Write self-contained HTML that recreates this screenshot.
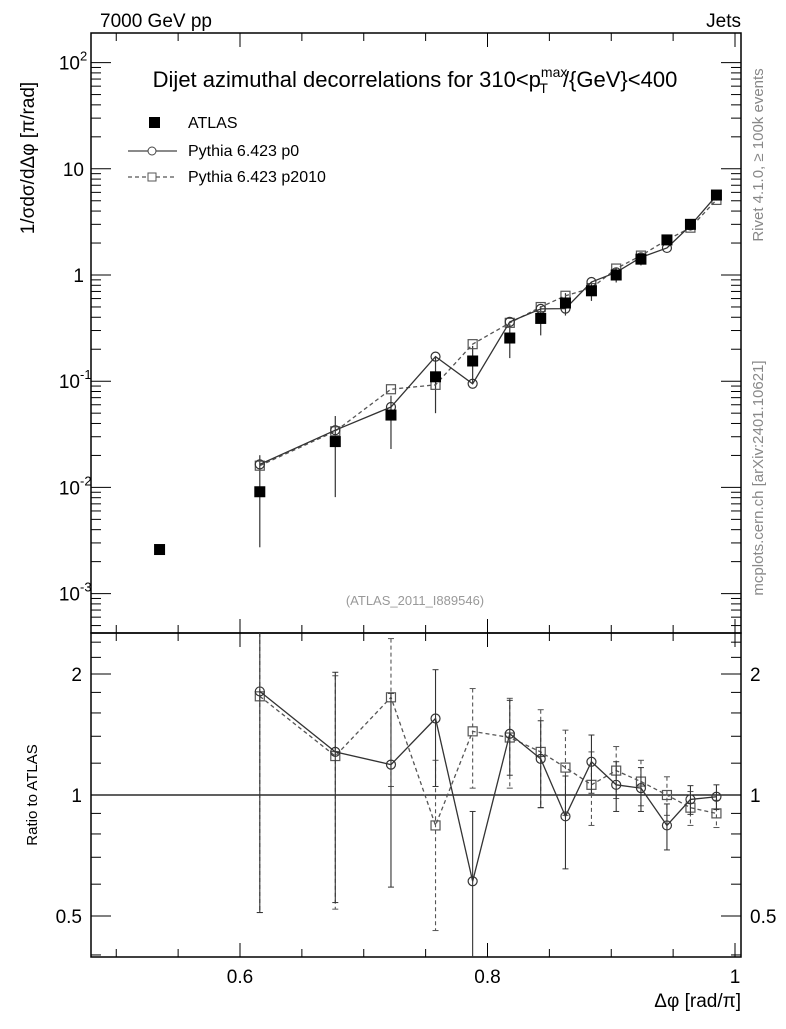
<!DOCTYPE html>
<html><head><meta charset="utf-8"><style>
body{margin:0;background:#fff}
svg text{font-family:"Liberation Sans",sans-serif}
</style></head><body>
<svg id="c" width="786" height="1024" xmlns="http://www.w3.org/2000/svg">
<text x="100" y="27" font-size="19">7000 GeV pp</text>
<text x="741" y="27" font-size="19" text-anchor="end">Jets</text>
<text x="415" y="87" font-size="22" text-anchor="middle">Dijet azimuthal decorrelations for 310&lt;p<tspan font-size="14" dy="-10">max</tspan><tspan font-size="14" dx="-28" dy="16">T</tspan><tspan dy="-6" dx="15">/{GeV}&lt;400</tspan></text>
<text transform="translate(34,158) rotate(-90)" font-size="19" text-anchor="middle">1/σdσ/dΔφ [π/rad]</text>
<text transform="translate(37,795) rotate(-90)" font-size="15" text-anchor="middle">Ratio to ATLAS</text>
<text x="741" y="1007" font-size="19" text-anchor="end">Δφ [rad/π]</text>
<text transform="translate(763,155) rotate(-90)" font-size="15" fill="#888" text-anchor="middle">Rivet 4.1.0, ≥ 100k events</text>
<text transform="translate(763,478) rotate(-90)" font-size="15" fill="#888" text-anchor="middle">mcplots.cern.ch [arXiv:2401.10621]</text>
<text x="415" y="605" font-size="13" fill="#999" text-anchor="middle">(ATLAS_2011_I889546)</text>
<g>
<rect x="149" y="117" width="11" height="11" fill="#000"/>
<text x="188" y="128" font-size="16">ATLAS</text>
<line x1="128" y1="151" x2="177" y2="151" stroke="#444" stroke-width="1.3"/>
<circle cx="152" cy="151" r="4" fill="#fff" stroke="#444"/>
<text x="188" y="156" font-size="16">Pythia 6.423 p0</text>
<line x1="128" y1="177" x2="177" y2="177" stroke="#555" stroke-width="1.2" stroke-dasharray="4,3"/>
<rect x="148" y="173" width="8" height="8" fill="#fff" stroke="#555"/>
<text x="188" y="182" font-size="16">Pythia 6.423 p2010</text>
</g>
<g id="g"></g>
</svg>
<script>
const xs=[0.535,0.616,0.677,0.722,0.758,0.788,0.818,0.843,0.863,0.884,0.904,0.924,0.945,0.964,0.985];
const atlas=[0.0026,0.0091,0.027,0.048,0.11,0.155,0.255,0.39,0.545,0.71,1.0,1.41,2.14,3.0,5.66];
const atlasErr=[0.0002,0.011,0.02,0.025,0.06,0.06,0.09,0.12,0.13,0.14,0.15,0.18,0.23,0.24,0.4];
const rP0=[null,1.81,1.28,1.19,1.55,0.61,1.42,1.23,0.885,1.21,1.06,1.04,0.84,0.975,0.99];
const eP0=[0,1.3,0.74,0.6,0.5,0.3,0.3,0.3,0.23,0.2,0.15,0.13,0.11,0.08,0.07];
const rP2=[null,1.76,1.25,1.75,0.84,1.44,1.39,1.28,1.17,1.06,1.15,1.08,1.0,0.93,0.90];
const eP2=[0,1.25,0.73,0.7,0.38,0.4,0.35,0.35,0.28,0.22,0.17,0.14,0.11,0.09,0.07];
const xTicks=[0.6,0.8,1];
const xTickLabels=["0.6","0.8","1"];
const rTicks=[0.5,1,2];
const rTickLabels=["0.5","1","2"];
const NS="http://www.w3.org/2000/svg",g=document.getElementById('g');
const L=91,R=741,T=33,M=633,B=957;
const X=v=>240+(v-0.6)*1237.5;
const Y=v=>275-Math.log10(v)*106.2;
const RY=v=>795-Math.log2(v)*121;
function el(t,a,n){const e=document.createElementNS(NS,t);for(const k in a)e.setAttribute(k,a[k]);g.appendChild(e);return e;}
let f=el('rect',{x:L,y:T,width:R-L,height:M-T,fill:'none',stroke:'#000','stroke-width':1.5});


f=el('rect',{x:L,y:M,width:R-L,height:B-M,fill:'none',stroke:'#000','stroke-width':1.5});


for(let v=0.5;v<=1.0001;v+=0.05){const x=X(v);const maj=xTicks.some(t=>Math.abs(t-v)<1e-6);const len=maj?14:8;
 for(const [y0,d] of [[T,1],[M,-1],[M,1],[B,-1]]){const t=el('line',{x1:x,x2:x,y1:y0,y2:y0+d*len,stroke:'#000','stroke-width':1});
 
 }}
xTicks.forEach((v,i)=>{const t=el('text',{x:X(v),y:983,'font-size':19,'text-anchor':'middle'});t.textContent=xTickLabels[i];

});
for(let e=-4;e<=2;e++){for(let m=1;m<10;m++){const v=m*Math.pow(10,e);const y=Y(v);if(y<T||y>M)continue;const len=m==1?20:10;
 for(const [x0,d] of [[L,1],[R,-1]]){const t=el('line',{x1:x0,x2:x0+d*len,y1:y,y2:y,stroke:'#000','stroke-width':1});
 
 }}}
[[-3,'10','-3'],[-2,'10','-2'],[-1,'10','-1'],[0,'1',''],[1,'10',''],[2,'10','2']].forEach(([e,b,s])=>{const y=Y(Math.pow(10,e))+7;
 const t=el('text',{x:s?80:84,y:y,'font-size':19,'text-anchor':'end'});t.textContent=b;
 
 
 if(s){const u=el('text',{x:80,y:y-9,'font-size':13});u.textContent=s;
 
 }});
[0.4,0.5,0.6,0.7,0.8,0.9,1,1.2,1.4,1.6,1.8,2,2.2,2.4].forEach(v=>{const y=RY(v);if(y<M||y>B)return;const maj=rTicks.includes(v);const len=maj?20:10;
 for(const [x0,d] of [[L,1],[R,-1]]){const t=el('line',{x1:x0,x2:x0+d*len,y1:y,y2:y,stroke:'#000','stroke-width':1});
 
 }});
rTicks.forEach((v,i)=>{for(const [x,a] of [[82,'end'],[750,'start']]){const t=el('text',{x:x,y:RY(v)+7,'font-size':19,'text-anchor':a});t.textContent=rTickLabels[i];
 
 }});
let ref=el('line',{x1:L,x2:R,y1:RY(1),y2:RY(1),stroke:'#000','stroke-width':1.3});


const cy=(y,a,b)=>Math.max(a,Math.min(b,y));
xs.forEach((x,i)=>{const v=atlas[i];const lo=Math.max(v-atlasErr[i],v*0.3);
 const l=el('line',{x1:X(x),x2:X(x),y1:cy(Y(v+atlasErr[i]),T,M),y2:cy(Y(lo),T,M),stroke:'#333','stroke-width':1.2});
 
 });
function series(r,e,dash,col,name,shape){
 let pm=[],pr=[];
 xs.forEach((x,i)=>{if(r[i]==null)return;pm.push(X(x)+','+Y(r[i]*atlas[i]));pr.push(X(x)+','+RY(r[i]));});
 let p=el('polyline',{points:pm.join(' '),fill:'none',stroke:col,'stroke-width':1.3,'stroke-dasharray':dash});
 
 
 p=el('polyline',{points:pr.join(' '),fill:'none',stroke:col,'stroke-width':1.3,'stroke-dasharray':dash});
 
 
 xs.forEach((x,i)=>{if(r[i]==null)return;const px=X(x);
  const hi=cy(RY(r[i]+e[i]),M,B),lo=cy(RY(Math.max(r[i]-e[i],0.3)),M,B);
  const eb=el('line',{x1:px,x2:px,y1:hi,y2:lo,stroke:col,'stroke-width':1.1,'stroke-dasharray':dash});
  
  
  for(const yy of [hi,lo]){if(yy<=M||yy>=B)continue;const c=el('line',{x1:px-3,x2:px+3,y1:yy,y2:yy,stroke:col,'stroke-width':1});
   
   }
  for(const [py,tag] of [[Y(r[i]*atlas[i]),'-point'],[RY(r[i]),'-ratio-point']]){
   const m=shape=='c'?el('circle',{cx:px,cy:py,r:4.5,fill:'none',stroke:col,'stroke-width':1.2}):el('rect',{x:px-4.5,y:py-4.5,width:9,height:9,fill:'none',stroke:col,'stroke-width':1.2});
   
   }
 });
}
series(rP2,eP2,'4,3','#555','p2010','s');
series(rP0,eP0,'none','#333','p0','c');
xs.forEach((x,i)=>{const m=el('rect',{x:X(x)-5.5,y:Y(atlas[i])-5.5,width:11,height:11,fill:'#000'});
 
 });
</script>
</body></html>
